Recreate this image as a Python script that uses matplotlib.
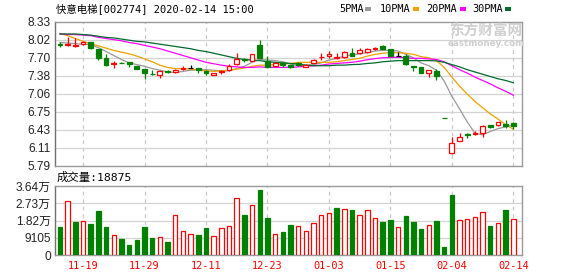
import numpy as np
import pandas as pd
import matplotlib
matplotlib.use('Agg')
import matplotlib.pyplot as plt
from matplotlib.patches import Rectangle

W, H = 578, 276

# trading days 2019-11-14 .. 2020-02-14 (new year + spring festival closed)
holidays = ['2020-01-01', '2020-01-24', '2020-01-27', '2020-01-28',
            '2020-01-29', '2020-01-30', '2020-01-31']
dates = pd.bdate_range('2019-11-14', '2020-02-14')
dates = dates[~dates.isin(pd.to_datetime(holidays))]
labels_md = ['11-19', '11-29', '12-11', '12-23', '01-03', '01-15', '02-04', '02-14']

opens = [7.93, 7.91, 7.89, 7.93, 7.96, 7.84, 7.68, 7.58, 7.60, 7.61,
         7.55, 7.49, 7.41, 7.38, 7.46, 7.44, 7.49, 7.51, 7.51, 7.46,
         7.39, 7.44, 7.47, 7.58, 7.66, 7.64, 7.92, 7.63, 7.55, 7.59,
         7.56, 7.60, 7.53, 7.60, 7.70, 7.72, 7.69, 7.70, 7.77, 7.77,
         7.79, 7.84, 7.89, 7.84, 7.73, 7.72, 7.55, 7.52, 7.43, 7.46,
         6.62, 6.01, 6.23, 6.34, 6.35, 6.37, 6.50, 6.50, 6.53, 6.54]
closes = [7.92, 7.93, 7.91, 7.96, 7.86, 7.68, 7.57, 7.60, 7.59, 7.58,
          7.50, 7.42, 7.40, 7.45, 7.44, 7.48, 7.51, 7.51, 7.47, 7.42,
          7.43, 7.45, 7.54, 7.66, 7.65, 7.75, 7.69, 7.52, 7.59, 7.56,
          7.53, 7.56, 7.57, 7.65, 7.71, 7.76, 7.70, 7.80, 7.73, 7.82,
          7.85, 7.86, 7.85, 7.73, 7.73, 7.58, 7.53, 7.43, 7.47, 7.36,
          6.62, 6.18, 6.30, 6.33, 6.36, 6.49, 6.47, 6.55, 6.48, 6.49]
highs = [7.97, 8.05, 8.04, 7.98, 7.97, 7.85, 7.76, 7.64, 7.62, 7.62,
         7.55, 7.49, 7.47, 7.46, 7.47, 7.49, 7.54, 7.56, 7.51, 7.47,
         7.43, 7.48, 7.58, 7.78, 7.68, 7.76, 8.01, 7.72, 7.61, 7.61,
         7.57, 7.62, 7.58, 7.66, 7.77, 7.81, 7.77, 7.81, 7.87, 7.87,
         7.86, 7.88, 7.91, 7.85, 7.79, 7.75, 7.55, 7.52, 7.48, 7.49,
         6.62, 6.30, 6.36, 6.37, 6.40, 6.50, 6.51, 6.56, 6.59, 6.56]
lows = [7.88, 7.90, 7.88, 7.92, 7.85, 7.65, 7.55, 7.51, 7.59, 7.53,
        7.49, 7.31, 7.38, 7.34, 7.42, 7.43, 7.48, 7.51, 7.43, 7.38,
        7.38, 7.41, 7.46, 7.57, 7.61, 7.63, 7.68, 7.52, 7.54, 7.53,
        7.51, 7.55, 7.52, 7.59, 7.65, 7.69, 7.66, 7.69, 7.72, 7.76,
        7.78, 7.82, 7.85, 7.72, 7.73, 7.57, 7.46, 7.42, 7.35, 7.30,
        6.62, 6.00, 6.22, 6.27, 6.32, 6.29, 6.45, 6.49, 6.45, 6.44]

ma5 = [7.96, 7.95, 7.94, 7.93, 7.92, 7.87, 7.80, 7.73, 7.66, 7.60,
       7.57, 7.54, 7.50, 7.47, 7.44, 7.43, 7.45, 7.47, 7.48, 7.48,
       7.47, 7.46, 7.46, 7.50, 7.54, 7.61, 7.66, 7.65, 7.64, 7.62,
       7.58, 7.55, 7.56, 7.57, 7.60, 7.65, 7.68, 7.72, 7.74, 7.76,
       7.78, 7.81, 7.82, 7.82, 7.81, 7.75, 7.69, 7.60, 7.55, 7.47,
       7.28, 7.01, 6.79, 6.56, 6.36, 6.33, 6.39, 6.44, 6.47, 6.50]
ma10 = [8.12, 8.08, 8.03, 7.98, 7.94, 7.90, 7.86, 7.82, 7.79, 7.76,
        7.72, 7.67, 7.62, 7.56, 7.52, 7.50, 7.50, 7.49, 7.47, 7.46,
        7.45, 7.46, 7.47, 7.49, 7.51, 7.54, 7.56, 7.56, 7.57, 7.58,
        7.59, 7.61, 7.61, 7.61, 7.61, 7.61, 7.62, 7.64, 7.66, 7.68,
        7.72, 7.75, 7.77, 7.78, 7.78, 7.77, 7.75, 7.71, 7.69, 7.64,
        7.52, 7.35, 7.19, 7.05, 6.92, 6.81, 6.70, 6.61, 6.51, 6.43]
ma20 = [8.11, 8.10, 8.10, 8.09, 8.08, 8.05, 8.03, 8.01, 7.99, 7.96,
        7.94, 7.91, 7.88, 7.85, 7.81, 7.77, 7.73, 7.69, 7.65, 7.61,
        7.585, 7.56, 7.54, 7.53, 7.52, 7.52, 7.53, 7.52, 7.52, 7.52,
        7.52, 7.53, 7.54, 7.55, 7.56, 7.58, 7.59, 7.60, 7.61, 7.63,
        7.655, 7.675, 7.69, 7.695, 7.70, 7.69, 7.68, 7.68, 7.67, 7.66,
        7.62, 7.55, 7.48, 7.42, 7.35, 7.29, 7.23, 7.16, 7.10, 7.03]
ma30 = [8.11, 8.11, 8.11, 8.10, 8.09, 8.07, 8.05, 8.04, 8.02, 8.00,
        7.98, 7.97, 7.95, 7.93, 7.91, 7.89, 7.87, 7.85, 7.82, 7.80,
        7.77, 7.74, 7.71, 7.68, 7.66, 7.65, 7.64, 7.62, 7.61, 7.60,
        7.59, 7.58, 7.56, 7.55, 7.55, 7.55, 7.56, 7.56, 7.57, 7.575,
        7.59, 7.60, 7.62, 7.63, 7.64, 7.64, 7.64, 7.64, 7.64, 7.635,
        7.61, 7.57, 7.53, 7.48, 7.44, 7.40, 7.36, 7.32, 7.29, 7.25]

volume = [14640, 28560, 17310, 18210, 16240, 23200, 14640, 10710, 8210, 5530,
          7680, 14640, 8750, 9640, 6600, 20880, 12850, 11250, 10350, 14100,
          10170, 14100, 15530, 29990, 21060, 26240, 34450, 19460, 11250, 11960,
          15710, 15530, 12500, 16780, 21060, 22130, 24810, 24280, 23740, 21060,
          23740, 19460, 17310, 18560, 14640, 20530, 17310, 13740, 16070, 18030,
          4460, 31770, 18390, 18920, 19810, 22670, 15170, 16780, 23740, 18875]

price_ticks = ['5.79', '6.11', '6.43', '6.75', '7.06', '7.38', '7.70', '8.02', '8.33']
vol_ticks = ['0', '9105', '1.82万', '2.73万', '3.64万']
vol_max = 36420

RED = '#ff0000'
GREEN = '#008000'
GRID = '#d4d4d4'
FRAME = '#9a9a9a'
MONO = ['DejaVu Sans Mono', 'Noto Sans CJK SC']
SANS = ['Liberation Sans', 'Noto Sans CJK SC']


def px(x, y):
    return x / W, 1 - y / H


fig = plt.figure(figsize=(W / 100, H / 100), dpi=100)
ax = fig.add_axes([55 / W, 1 - 165.5 / H, 467 / W, 144 / H])
axv = fig.add_axes([55 / W, 1 - 255 / H, 467 / W, 69 / H])

n = len(closes)
x = np.arange(n)
tick_pos = [i for i, d in enumerate(dates) if d.strftime('%m-%d') in labels_md]

for a in (ax, axv):
    a.set_xlim(-0.65, n + 0.13)
    for s in a.spines.values():
        s.set_color(FRAME)
        s.set_linewidth(1)
    a.spines['left'].set_color('#707070')
    a.tick_params(length=0)
    for p in tick_pos:
        a.axvline(p, color='#c8c8c8', lw=0.9, ls=(0, (3, 3)), zorder=0)

# price panel
lo, hi = float(price_ticks[0]), float(price_ticks[-1])
ax.set_ylim(lo, hi)
pt = np.linspace(lo, hi, len(price_ticks))
ax.set_yticks(pt, price_ticks, fontsize=8.6, family=SANS, color='#222222')
for v in pt[1:-1]:
    ax.axhline(v, color=GRID, lw=0.9, zorder=0)
ax.set_xticks([])
ax.tick_params(axis='y', pad=3)

for i in range(n):
    o, c, h, l = opens[i], closes[i], highs[i], lows[i]
    prev = closes[i - 1] if i > 0 else o
    if c > o:
        col = RED
    elif c < o:
        col = GREEN
    else:
        col = RED if c > prev else (GREEN if c < prev else 'black')
    ax.vlines(i, l, h, color=col, lw=0.9, zorder=3)
    if c != o:
        ax.bar(i, abs(c - o), bottom=min(o, c), width=0.62,
               facecolor='white' if c > o else col, edgecolor=col, lw=0.9, zorder=4)
    else:
        ax.hlines(o, i - 0.33, i + 0.33, color=col, lw=0.9, zorder=4)

ma_colors = ['#999999', '#f0a000', '#ff00ff', '#006b2e']
for ma, col in zip([ma5, ma10, ma20, ma30], ma_colors):
    ax.plot(x, ma, color=col, lw=0.9, zorder=2)

# watermark
fig.text(*px(486, 31), '东方财富网', family=['Noto Sans CJK SC'], fontweight='bold',
         fontsize=10.5, color='#cfcfcf', ha='center', va='center', zorder=0)
fig.text(*px(486, 43.5), 'eastmoney.com', family=['DejaVu Sans'], fontweight='bold',
         fontsize=6.3, color='#cfcfcf', ha='center', va='center', zorder=0)

# volume panel
axv.set_ylim(0, vol_max)
vt = np.linspace(0, vol_max, len(vol_ticks))
axv.set_yticks(vt, vol_ticks, fontsize=8.6, family=SANS, color='#222222')
for v in vt[1:-1]:
    axv.axhline(v, color=GRID, lw=0.9, zorder=0)
axv.set_xticks(tick_pos, labels_md, fontsize=7.4, family=MONO, color=RED)
axv.tick_params(axis='x', pad=4)
axv.tick_params(axis='y', pad=3)

for i in range(n):
    prev = closes[i - 1] if i > 0 else opens[i]
    up = closes[i] >= prev
    col = RED if up else GREEN
    axv.bar(i, volume[i], width=0.58, facecolor='white' if up else col,
            edgecolor=col, lw=0.9, zorder=3)

# header texts
fig.text(*px(56, 8.5), '快意电梯[002774] 2020-02-14 15:00', family=MONO,
         fontsize=7.5, color='black', va='center')
fig.text(*px(57, 177.5), f'成交量:{volume[-1]}', family=MONO,
         fontsize=8.2, color='black', va='center')

legend_names = ['5PMA', '10PMA', '20PMA', '30PMA']
legend_x = [339, 380, 426, 472]
box_x = [365, 413, 460, 505]
for name, lx, bx, col in zip(legend_names, legend_x, box_x, ma_colors):
    fig.text(*px(lx, 8.5), name, family=MONO, fontsize=7.4, color='black', va='center')
    fig.patches.append(Rectangle(px(bx, 11), 6 / W, 4 / H, transform=fig.transFigure,
                                 facecolor=col, edgecolor='none', figure=fig))

fig.savefig('out.png', dpi=100)
